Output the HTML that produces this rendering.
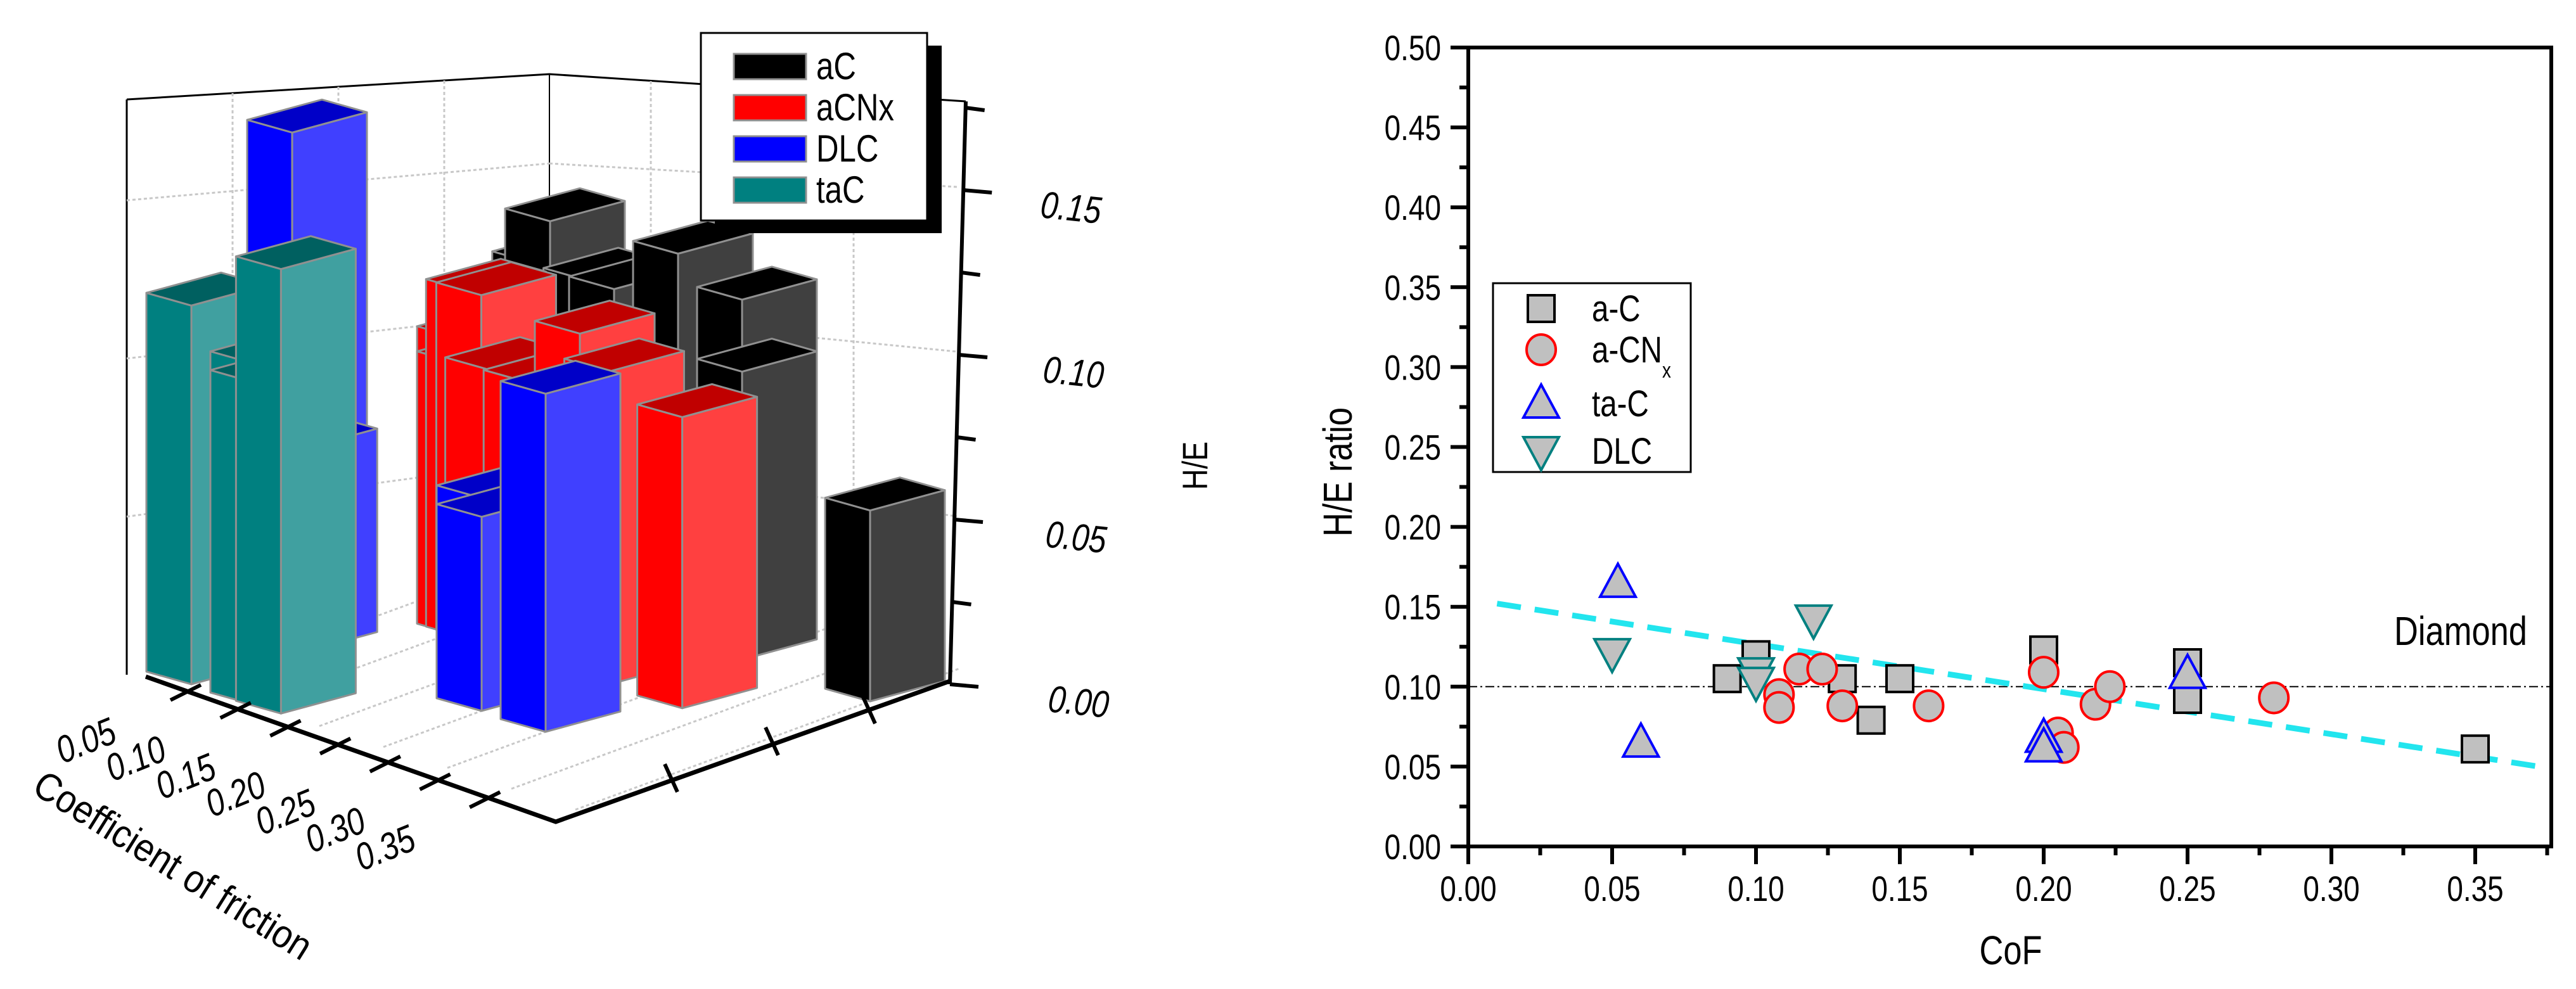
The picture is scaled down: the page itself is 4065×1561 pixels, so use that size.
<!DOCTYPE html>
<html><head><meta charset="utf-8">
<style>
html,body{margin:0;padding:0;background:#fff;}
svg{display:block;font-family:"Liberation Sans",Arial,sans-serif;}
</style></head>
<body>
<svg id="root" width="4065" height="1561" viewBox="0 0 4065 1561" xmlns="http://www.w3.org/2000/svg">
<rect width="4065" height="1561" fill="#fff"/>
<g id="left3d"></g>
<g id="scatter"></g>
</svg>
<script>
// ---------- DATA ----------
const seriesNames = ["a-C","a-CNx","ta-C","DLC"];
const acX = [0.09,0.10,0.13,0.14,0.15,0.20,0.25,0.25,0.35];
const acY = [0.105,0.120,0.105,0.079,0.105,0.123,0.115,0.092,0.061];
const acnxX = [0.108,0.108,0.115,0.123,0.13,0.16,0.20,0.205,0.207,0.218,0.223,0.28];
const acnxY = [0.095,0.087,0.111,0.111,0.088,0.088,0.109,0.071,0.062,0.089,0.100,0.093];
const tacX = [0.052,0.06,0.20,0.20,0.25];
const tacY = [0.165,0.065,0.068,0.062,0.108];
const dlcX = [0.05,0.10,0.10,0.12];
const dlcY = [0.121,0.109,0.103,0.142];
const trendX = [0.01,0.372];
const trendY = [0.152,0.050];
const diamondY = 0.10;
const xTicks = ["0.00","0.05","0.10","0.15","0.20","0.25","0.30","0.35"];
const yTicks = ["0.00","0.05","0.10","0.15","0.20","0.25","0.30","0.35","0.40","0.45","0.50"];
const zTicks3d = ["0.00","0.05","0.10","0.15"];
const cofTicks3d = ["0.05","0.10","0.15","0.20","0.25","0.30","0.35"];
const legend3dNames = ["aC","aCNx","DLC","taC"];

const NS="http://www.w3.org/2000/svg";
function mk(parent,tag,attrs,text){const e=document.createElementNS(NS,tag);for(const k in attrs)e.setAttribute(k,attrs[k]);if(text!==undefined)e.textContent=text;parent.appendChild(e);return e;}
function ct(parent,x,y,size,anchor,str,extra){const a={x:0,y:0,'font-size':size,'text-anchor':anchor,transform:`translate(${x},${y}) ${extra||''} scale(0.82,1)`};return mk(parent,'text',a,str);}

// ---------- SCATTER ----------
const S=document.getElementById('scatter');
const X0=2317,X1=4026,Y0=1336,Y1=75;
const xMax=(X1-X0)/4540;
function sx(v){return X0+v/xMax*(X1-X0);}
function sy(v){return Y0-v/0.5*(Y0-Y1);}
let dl=mk(S,'line',{x1:X0,x2:X1,y1:sy(diamondY),y2:sy(diamondY),stroke:'#000','stroke-width':2,'stroke-dasharray':'14 5 3 5'});


let dt=ct(S,3988,1018,64,'end','Diamond');


for(let i=0;i<xTicks.length;i++){const v=parseFloat(xTicks[i]);const x=sx(v);
 mk(S,'line',{x1:x,x2:x,y1:Y0,y2:Y0+28,stroke:'#000','stroke-width':6});
 const m=sx(v+0.025); if(m<X1) mk(S,'line',{x1:m,x2:m,y1:Y0,y2:Y0+14,stroke:'#000','stroke-width':6});
 let t=ct(S,x,Y0+86,56,'middle',xTicks[i]);
 
 
}
for(let i=0;i<yTicks.length;i++){const v=parseFloat(yTicks[i]);const y=sy(v);
 mk(S,'line',{x1:X0-28,x2:X0,y1:y,y2:y,stroke:'#000','stroke-width':6});
 if(v<0.5){const m=sy(v+0.025);mk(S,'line',{x1:X0-14,x2:X0,y1:m,y2:m,stroke:'#000','stroke-width':6});}
 let t=ct(S,2274,y+20,56,'end',yTicks[i]);
 
 
}
let tr=mk(S,'line',{x1:sx(trendX[0]),y1:sy(trendY[0]),x2:sx(trendX[1]),y2:sy(trendY[1]),stroke:'#22e5ee','stroke-width':9,'stroke-dasharray':'38 22'});


function square(g,x,y){return mk(g,'rect',{x:x-21,y:y-21,width:42,height:42,fill:'#c0c0c0',stroke:'#000','stroke-width':4});}
function circle(g,x,y){return mk(g,'ellipse',{cx:x,cy:y,rx:23,ry:24,fill:'#c0c0c0',stroke:'#f00','stroke-width':4});}
function tri(g,x,y){return mk(g,'polygon',{points:`${x},${y-30} ${x-28},${y+22} ${x+28},${y+22}`,fill:'#c0c0c0',stroke:'#00f','stroke-width':4});}
function dtri(g,x,y){return mk(g,'polygon',{points:`${x},${y+30} ${x-28},${y-22} ${x+28},${y-22}`,fill:'#c0c0c0',stroke:'#008080','stroke-width':4});}
const sets=[[acX,acY,square,'point-a-c'],[acnxX,acnxY,circle,'point-a-cnx'],[tacX,tacY,tri,'point-ta-c'],[dlcX,dlcY,dtri,'point-dlc']];
sets.forEach(([xs,ys,f,name])=>{xs.forEach((v,i)=>{const e=f(S,sx(v),sy(ys[i]));
 
 });});
let fr=mk(S,'rect',{x:X0,y:Y1,width:X1-X0,height:Y0-Y1,fill:'none',stroke:'#000','stroke-width':6});


let xt=ct(S,3173,1522,64,'middle','CoF');


let yt=ct(S,2133,745,64,'middle','H/E ratio','rotate(-90)');


const LG=mk(S,'g',{});


mk(LG,'rect',{x:2356,y:447,width:312,height:298,fill:'#fff',stroke:'#000','stroke-width':3});
const lf=[square,circle,tri,dtri];const ly=[487,552,637,712];
const lbl=['a-C','a-CN','ta-C','DLC'];
for(let i=0;i<4;i++){const e=lf[i](LG,2432,ly[i]);
 
 
 let t=ct(LG,2512,ly[i]+20,58,'start',lbl[i]);
 
 
 if(i===1){mk(t,'tspan',{dy:24,'font-size':34},'x');}
}

// ---------- 3D BAR CHART ----------
const L=document.getElementById('left3d');
const zScale=5200, zBase=1080, barScale=0.95;
const sStep=[155,-57];
function base(c,s){return [302+(c-0.05)*2020+s*sStep[0], 1080+(c-0.05)*660+s*sStep[1]];}
const gl={stroke:'#c8c8c8','stroke-width':3,'stroke-dasharray':'5 4',fill:'none'};
mk(L,'polyline',{points:'200,157 867,117 1524,160',fill:'none',stroke:'#000','stroke-width':3});
mk(L,'line',{x1:200,y1:157,x2:200,y2:1065,stroke:'#000','stroke-width':3});
mk(L,'line',{x1:867,y1:117,x2:867,y2:960,stroke:'#000','stroke-width':2});
for(let k=1;k<=3;k++){const dy=k*0.05*zScale;
 mk(L,'line',Object.assign({x1:200,y1:1065-dy*0.96,x2:867,y2:960-dy*0.9},gl));
 mk(L,'line',Object.assign({x1:867,y1:960-dy*0.9,x2:1510,y2:1075-dy},gl));}
for(let k=1;k<4;k++){mk(L,'line',Object.assign({x1:200+k*167,y1:157-k*10,x2:200+k*167,y2:1065-k*26},gl));
 mk(L,'line',Object.assign({x1:867+k*160,y1:117+k*11,x2:867+k*160,y2:960+k*29},gl));}
for(let i=0;i<cofTicks3d.length;i++){const c=parseFloat(cofTicks3d[i]);const p=base(c,0);const q=base(c,3.9);
 mk(L,'line',Object.assign({x1:p[0],y1:p[1],x2:q[0],y2:q[1]},gl));}
const bars=[];
const barSeries=[[acX,acY,3,['#000','#404040','#000']],[acnxX,acnxY,2,['#ff0000','#ff4040','#c00000']],[tacX,tacY,1,['#0000ff','#4040ff','#0000c8']],[dlcX,dlcY,0,['#008080','#40a0a0','#006060']]];
barSeries.forEach(([xs,ys,s,col])=>xs.forEach((c,i)=>bars.push({c:c,v:ys[i],s:s,col:col})));
bars.sort((a,b)=>base(a.c,a.s)[1]-base(b.c,b.s)[1]);
const Lv=[-71,-20],Rv=[118,-32];
bars.forEach(b=>{const [x,y]=base(b.c,b.s);const h=b.v*zScale*barScale;
 const g=mk(L,'g',{});
 
 
 const st={stroke:'#909090','stroke-width':3,'stroke-linejoin':'round'};
 mk(g,'polygon',Object.assign({points:`${x},${y} ${x+Lv[0]},${y+Lv[1]} ${x+Lv[0]},${y+Lv[1]-h} ${x},${y-h}`,fill:b.col[0]},st));
 mk(g,'polygon',Object.assign({points:`${x},${y} ${x+Rv[0]},${y+Rv[1]} ${x+Rv[0]},${y+Rv[1]-h} ${x},${y-h}`,fill:b.col[1]},st));
 mk(g,'polygon',Object.assign({points:`${x},${y-h} ${x+Lv[0]},${y+Lv[1]-h} ${x+Lv[0]+Rv[0]},${y+Lv[1]+Rv[1]-h} ${x+Rv[0]},${y+Rv[1]-h}`,fill:b.col[2]},st));
});
mk(L,'polyline',{points:'230,1068 877,1297 1499,1075',fill:'none',stroke:'#000','stroke-width':7});
mk(L,'line',{x1:1499,y1:1080,x2:1524,y2:160,stroke:'#000','stroke-width':6});
for(let i=0;i<cofTicks3d.length;i++){const c=parseFloat(cofTicks3d[i]);
 const px=293+(c-0.05)/0.05*78.7, py=1093+(c-0.05)/0.05*28.2;
 mk(L,'line',{x1:px-24,y1:py+12,x2:px+24,y2:py-12,stroke:'#000','stroke-width':6});
 let t=ct(L,px-150,py+95,60,'middle',cofTicks3d[i],'rotate(-22)');
 t.setAttribute('font-style','italic');
 
 
}
[[1059,1228],[1218,1170],[1371,1120]].forEach(p=>mk(L,'line',{x1:p[0]-10,y1:p[1]-22,x2:p[0]+10,y2:p[1]+22,stroke:'#000','stroke-width':6}));
for(let k=0;k<=7;k++){const v=k*0.025;const y=zBase-v*zScale;const x=1499+(1080-y)/920*25;
 mk(L,'line',{x1:x,y1:y,x2:x+(k%2?30:45),y2:y+4,stroke:'#000','stroke-width':6});}
for(let i=0;i<zTicks3d.length;i++){const v=parseFloat(zTicks3d[i]);const y=zBase-v*zScale;
 let t=ct(L,1700-i*4,y+48,60,'middle',zTicks3d[i],'rotate(6)');
 t.setAttribute('font-style','italic');
 
 
}
let zt=ct(L,1905,735,56,'middle','H/E','rotate(-90)');


let cft=mk(L,'text',{x:0,y:0,'font-size':62,transform:'translate(48,1250) rotate(32) scale(0.9,1)'},'Coefficient of friction');


const LG2=mk(L,'g',{});


mk(LG2,'rect',{x:1128,y:72,width:358,height:296,fill:'#000'});
mk(LG2,'rect',{x:1106,y:52,width:357,height:296,fill:'#fff',stroke:'#000','stroke-width':3});
const lc=['#000','#ff0000','#0000ff','#008080'];
for(let i=0;i<4;i++){const y=85+i*65;
 let r=mk(LG2,'rect',{x:1158,y:y,width:114,height:40,fill:lc[i],stroke:'#909090','stroke-width':3});
 
 
 let t=ct(LG2,1288,y+40,60,'start',legend3dNames[i]);
 
 
}
</script>
</body></html>
